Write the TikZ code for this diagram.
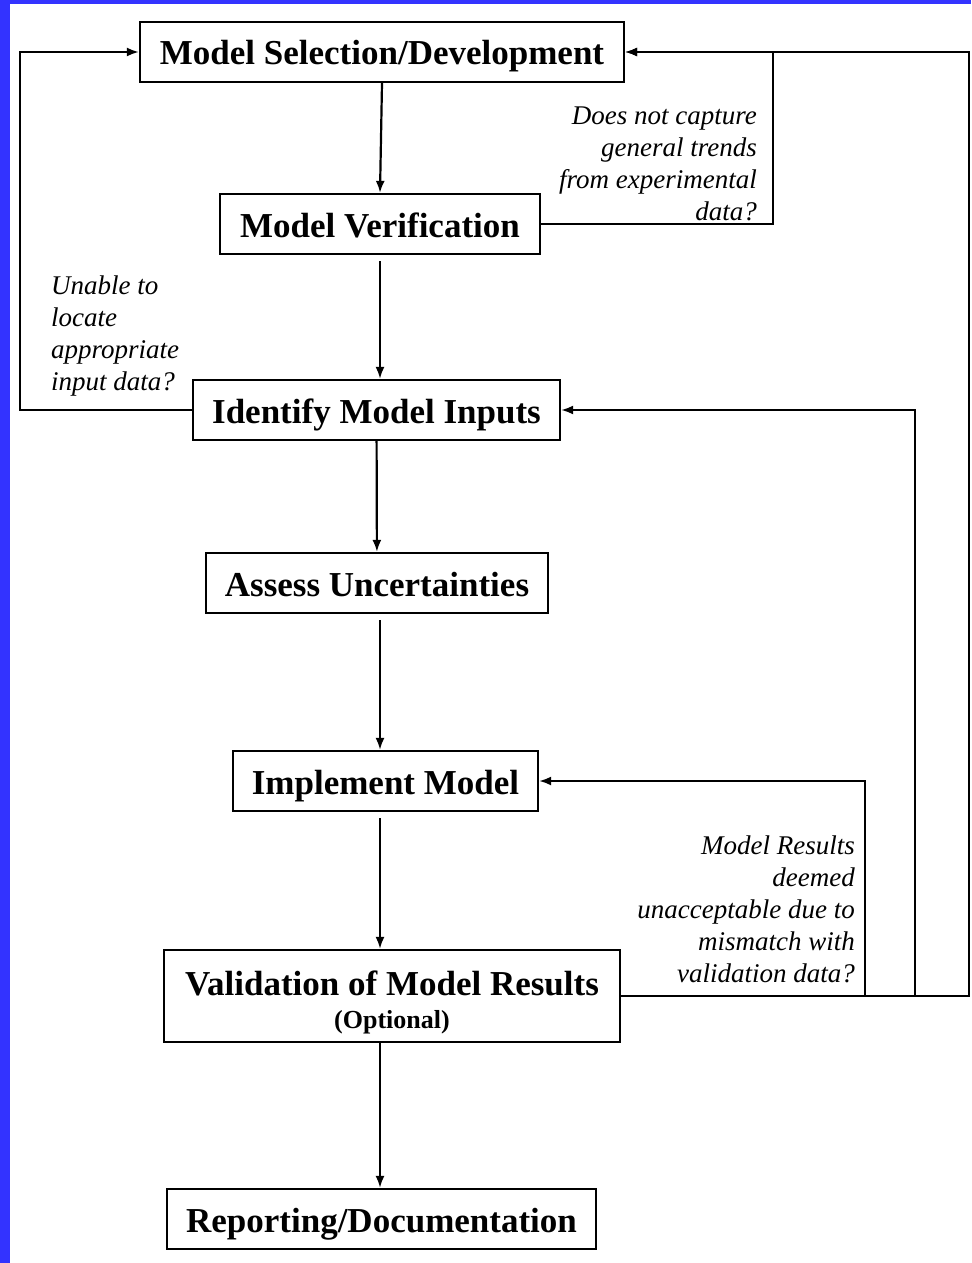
\documentclass[tikz,border=0pt]{standalone}
\usepackage{fontspec}
\setmainfont{Liberation Serif}
\usetikzlibrary{arrows.meta}
\definecolor{frameblue}{RGB}{51,51,255}
\begin{document}
\begin{tikzpicture}[
	x=0.5pt, y=-0.5pt,
	line width=1.1pt,
	>={Latex[length=6pt,width=4.5pt]}
]
\tikzset{
    stepbox/.style = {rectangle, draw=black, align=center, fill=white,
                      minimum height=30pt, inner sep=0pt,
                      font=\bfseries\fontsize{17.5}{21}\selectfont},
    oneline/.style = {stepbox, text height=13pt, text depth=0pt},
    question/.style = {align=right, inner sep=0pt,
                       font=\itshape\fontsize{13.5}{16}\selectfont},
    flow/.style = {->},
    loopback/.style = {->},
}
\useasboundingbox (0,0) rectangle (971,1263);
\fill[frameblue] (0,0) rectangle (10,1263);
\fill[frameblue] (0,0) rectangle (971,4);
%
\node[oneline, minimum width=242pt] at (382, 52) (msel) {Model Selection/Development};
\node[oneline, minimum width=160pt] at (380, 224) (mver) {Model Verification};
\node[oneline, minimum width=183.5pt] at (376.5, 410) (inputs) {Identify Model Inputs};
\node[oneline, minimum width=171pt] at (377, 583) (uncert) {Assess Uncertainties};
\node[oneline, minimum width=152.5pt] at (385.5, 781) (impl) {Implement Model};
\node[stepbox, minimum width=228pt, minimum height=46pt,
      text height=35.5pt, text depth=3.5pt] at (392, 996) (valid)
    {Validation of Model Results\\[-4.5pt]{\fontsize{13}{15}\selectfont (Optional)}};
\node[oneline, minimum width=214.5pt] at (381.5, 1219) (report) {Reporting/Documentation};
%
\node[question, anchor=east] at (758, 164) (qtrend)
    {Does not capture\\general trends\\from experimental\\data?};
\node[question, anchor=west, align=left] at (50, 336) (qinput)
    {Unable to\\locate\\appropriate\\input data?};
\node[question, anchor=east] at (856, 909) (qmatch)
    {Model Results\\deemed\\unacceptable due to\\mismatch with\\validation data?};
%
\coordinate (rtrend) at (773, 52);
\coordinate (redge) at (969, 52);
\coordinate (linput) at (20, 52);
%
\draw[flow] (msel.south) -- (mver.north);
\draw[flow, shorten <=3pt] (mver) -- (inputs.north -| mver);
\draw[flow] (inputs) -- (uncert);
\draw[flow, shorten <=3pt] (uncert.south -| mver) -- (impl.north -| mver);
\draw[flow, shorten <=3pt] (impl.south -| mver) -- (valid.north -| mver);
\draw[flow] (valid.south -| mver) -- (report.north -| mver);
%
\draw[loopback] (mver.east) -| (rtrend) -- (msel.east);
\draw[loopback] (valid.east) -| (redge) -- (msel.east);
\draw[loopback] (valid.east) -| (915, 700) |- (inputs.east);
\draw[loopback] (valid.east) -| (865, 900) |- (impl.east);
\draw[loopback] (inputs.west) -| (linput) -- (msel.west);
\end{tikzpicture}
\end{document}
